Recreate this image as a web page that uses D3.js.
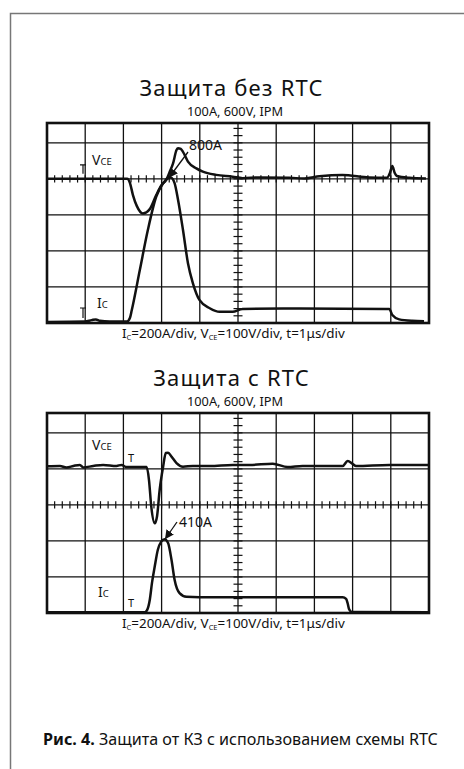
<!DOCTYPE html>
<html>
<head>
<meta charset="utf-8">
<script src="https://cdn.jsdelivr.net/npm/d3@7"></script>
<style>
  body { margin: 0; background: #fff; }
  svg { display: block; font-family: 'Noto Sans', sans-serif; }
</style>
</head>
<body>
<svg></svg>
<script>
var width = 464;
var height = 769;

// time axis is 1 us/div, so t in us == screen divisions
// Ic in amperes (200 A/div), Vce in screen divisions (scope offset unknown)
var vceNoRtc = [[0,4.0],[1,4.0],[2.1,4.0],[2.17,3.89],[2.25,3.55],[2.35,3.25],[2.51,3.04],[2.69,3.16],[2.86,3.55],[3.0,3.83],
  [3.12,3.97],[3.21,4.19],[3.3,4.43],[3.39,4.8],[3.43,4.85],[3.5,4.83],[3.56,4.75],[3.69,4.48],[3.91,4.29],[4.08,4.2],
  [4.43,4.11],[4.86,4.06],[5.12,4.02],[5.56,4.04],[6.34,4.03],[6.74,4.01],[7.13,4.07],[7.73,4.11],[8.43,4.04],[8.9,4.03],
  [8.98,4.17],[9.04,4.36],[9.1,4.17],[9.16,4.08],[9.48,4.03],[9.92,4.01]];
var icNoRtc = [[0,6],[0.99,8],[1.17,16],[1.28,20],[1.38,12],[1.64,8],[2.09,8],[2.17,28],[2.22,72],[2.43,294],[2.64,516],
  [2.86,702],[3.04,776],[3.17,804],[3.24,808],[3.34,776],[3.43,684],[3.56,516],[3.69,332],[3.82,220],[3.99,128],[4.26,82],
  [4.52,62],[4.86,62],[5.12,78],[6.61,80],[8.96,78],[9.04,44],[9.22,20],[9.56,12],[9.87,10]];

var vceRtc = [[0,4.07],[0.34,4.08],[0.51,4.04],[0.69,4.08],[0.86,4.11],[0.95,4.04],[1.21,4.08],[1.47,4.11],[1.82,4.08],
  [1.95,4.11],[2.08,4.05],[2.61,4.05],[2.67,3.69],[2.73,2.95],[2.82,2.49],[2.88,2.68],[2.95,3.42],[3.04,4.06],[3.11,4.44],
  [3.17,4.45],[3.26,4.34],[3.39,4.16],[3.56,4.06],[3.82,4.08],[4.26,4.08],[4.86,4.11],[5.3,4.11],[5.91,4.14],[6.3,4.05],
  [6.69,4.08],[7.74,4.08],[7.87,4.22],[8.0,4.14],[8.09,4.08],[8.96,4.11],[10,4.11]];
var icRtc = [[0,4],[2.56,4],[2.62,16],[2.69,72],[2.75,170],[2.82,258],[2.9,350],[2.99,396],[3.08,410],[3.17,388],[3.26,294],
  [3.34,184],[3.47,110],[3.65,90],[3.99,88],[4.86,88],[7.74,88],[7.83,78],[7.87,54],[7.91,20],[7.98,6],[10,4]];

var titles = ['Защита без RTC', 'Защита с RTC'];
var subTitle = '100A, 600V, IPM';
var peakLabels = ['800A', '410A'];
var axisDivs = { x: 10, yLines: 5, yTop: 5.55 };

var svg = d3.select('svg').attr('width', width).attr('height', height);

function fitText(sel, w) {
  var len = sel.node().getComputedTextLength();
  var fs = parseFloat(sel.style('font-size'));
  sel.style('font-size', (fs * w / len) + 'px');
}

// page frame
svg.append('path')
  .attr('d', 'M10.5,' + height + ' V13.5 H' + width)
  .attr('fill', 'none')
  .attr('stroke', '#777')
  .attr('stroke-width', 1.5);

var defs = svg.append('defs');
defs.append('marker')
  .attr('id', 'arr')
  .attr('viewBox', '0 0 10 10')
  .attr('refX', 9).attr('refY', 5)
  .attr('markerWidth', 9).attr('markerHeight', 9)
  .attr('markerUnits', 'userSpaceOnUse')
  .attr('orient', 'auto')
  .append('path').attr('d', 'M0,0 L10,5 L0,10 Z').attr('fill', '#111');

var panels = [
  { top: 123, tickLevel: 4, vce: vceNoRtc, ic: icNoRtc, title: titles[0], peak: peakLabels[0],
    peakText: [189, 150], arrow: [[188, 152], [169.5, 177]], vceLab: [92, 165], icLab: [97, 308], markers: 'lines' },
  { top: 413, tickLevel: 3, vce: vceRtc, ic: icRtc, title: titles[1], peak: peakLabels[1],
    peakText: [179, 527], arrow: [[177, 522], [165.5, 538.5]], vceLab: [92, 450], icLab: [98, 597], markers: 'text' }
];

var titleSpacing = null;

panels.forEach(function(p) {
  var x = d3.scaleLinear().domain([0, axisDivs.x]).range([47, 429]);
  var y = d3.scaleLinear().domain([0, axisDivs.yTop]).range([p.top + 200, p.top]);
  var yI = d3.scaleLinear().domain([0, 200 * axisDivs.yTop]).range([p.top + 200, p.top]);
  var g = svg.append('g');

  // titles: same size for both, spacing taken from the first one
  var t = g.append('text').text(p.title)
    .attr('x', 231.5).attr('y', p.top - 27)
    .attr('text-anchor', 'middle')
    .style('font-size', '22px').attr('fill', '#111');
  if (titleSpacing === null) {
    var len = t.node().getComputedTextLength();
    titleSpacing = (183 - len) / (p.title.length - 1);
  }
  t.style('letter-spacing', titleSpacing + 'px');

  var st = g.append('text').text(subTitle)
    .attr('x', 187).attr('y', p.top - 7)
    .style('font-size', '11px').attr('fill', '#111');
  fitText(st, 96);

  // grid
  g.selectAll('.vline').data(d3.range(1, axisDivs.x)).enter().append('line')
    .attr('x1', d => x(d)).attr('x2', d => x(d))
    .attr('y1', p.top).attr('y2', p.top + 200)
    .attr('stroke', '#111').attr('stroke-width', 1.3);
  g.selectAll('.hline').data(d3.range(1, axisDivs.yLines + 1)).enter().append('line')
    .attr('x1', 47).attr('x2', 429)
    .attr('y1', d => y(d)).attr('y2', d => y(d))
    .attr('stroke', '#111').attr('stroke-width', 1.3);

  // minor ticks on centre axes
  var ySteps = d3.range(0.2, axisDivs.yTop, 0.2);
  g.selectAll('.vt').data(ySteps).enter().append('line')
    .attr('x1', x(5) - 4.5).attr('x2', x(5) + 4.5)
    .attr('y1', d => y(d)).attr('y2', d => y(d))
    .attr('stroke', '#111').attr('stroke-width', 1.2);
  var xSteps = d3.range(0.2, axisDivs.x, 0.2);
  g.selectAll('.ht').data(xSteps).enter().append('line')
    .attr('x1', d => x(d)).attr('x2', d => x(d))
    .attr('y1', y(p.tickLevel) - 3.7).attr('y2', y(p.tickLevel) + 3.7)
    .attr('stroke', '#111').attr('stroke-width', 1.2);

  g.append('rect')
    .attr('x', 47).attr('y', p.top)
    .attr('width', 382).attr('height', 200)
    .attr('fill', 'none').attr('stroke', '#111').attr('stroke-width', 2.6);

  // traces
  var lineV = d3.line().x(d => x(d[0])).y(d => y(d[1])).curve(d3.curveMonotoneX);
  var lineI = d3.line().x(d => x(d[0])).y(d => yI(d[1])).curve(d3.curveMonotoneX);
  g.append('path').attr('d', lineV(p.vce))
    .attr('fill', 'none').attr('stroke', '#111').attr('stroke-width', 2.5).attr('stroke-linejoin', 'round');
  g.append('path').attr('d', lineI(p.ic))
    .attr('fill', 'none').attr('stroke', '#111').attr('stroke-width', 2.5).attr('stroke-linejoin', 'round');

  // labels
  var vl = g.append('text').attr('x', p.vceLab[0]).attr('y', p.vceLab[1]).attr('fill', '#111')
    .style('font-size', '14px');
  vl.append('tspan').text('V');
  vl.append('tspan').text('CE').style('font-size', '9.5px');
  var il = g.append('text').attr('x', p.icLab[0]).attr('y', p.icLab[1]).attr('fill', '#111')
    .style('font-size', '14px');
  il.append('tspan').text('I');
  il.append('tspan').text('C').style('font-size', '9.5px');

  if (p.markers === 'lines') {
    [[83, y(p.tickLevel) - 14, y(p.tickLevel) - 5], [83, p.top + 185, p.top + 195]].forEach(function(m) {
      g.append('path')
        .attr('d', 'M' + (m[0] - 3) + ',' + m[1] + ' H' + (m[0] + 3) + ' M' + m[0] + ',' + m[1] + ' V' + m[2])
        .attr('fill', 'none').attr('stroke', '#111').attr('stroke-width', 1.2);
    });
  } else {
    [[128, 462], [128, 607]].forEach(function(m) {
      g.append('text').text('T').attr('x', m[0]).attr('y', m[1])
        .style('font-size', '11px').attr('fill', '#111');
    });
  }

  // peak annotation
  g.append('text').text(p.peak)
    .attr('x', p.peakText[0]).attr('y', p.peakText[1])
    .style('font-size', '14px').attr('fill', '#111');
  g.append('line')
    .attr('x1', p.arrow[0][0]).attr('y1', p.arrow[0][1])
    .attr('x2', p.arrow[1][0]).attr('y2', p.arrow[1][1])
    .attr('stroke', '#111').attr('stroke-width', 1.3)
    .attr('marker-end', 'url(#arr)');

  // scale caption
  var cap = g.append('text').attr('x', 122).attr('y', p.top + 215)
    .style('font-size', '11px').attr('fill', '#111');
  cap.append('tspan').text('I');
  cap.append('tspan').text('C').style('font-size', '7.5px').attr('dy', 1.5);
  cap.append('tspan').text('=200A/div, V').attr('dy', -1.5);
  cap.append('tspan').text('CE').style('font-size', '7.5px').attr('dy', 1.5);
  cap.append('tspan').text('=100V/div, t=1μs/div').attr('dy', -1.5);
  fitText(cap, 226);
});

// figure caption
var fig = svg.append('text').attr('x', 43).attr('y', 745)
  .style('font-size', '16px').attr('fill', '#111');
fig.append('tspan').text('Рис. 4.').style('font-weight', 'bold');
fig.append('tspan').text(' Защита от КЗ с использованием схемы RTC');
fitText(fig, 395);
</script>
</body>
</html>
